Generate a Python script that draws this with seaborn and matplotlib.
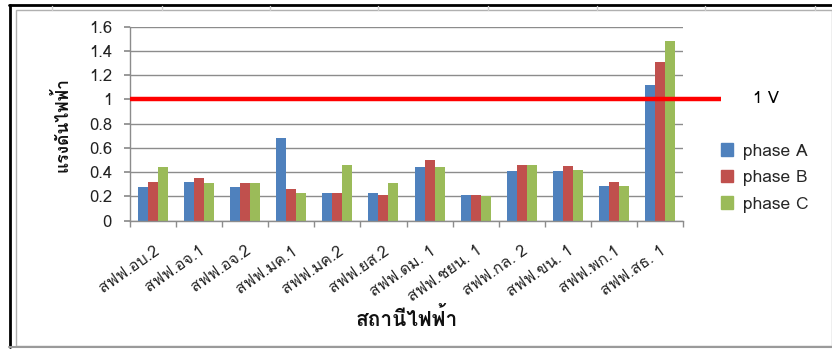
import matplotlib
matplotlib.use("Agg")
import matplotlib.pyplot as plt
import seaborn as sns
import pandas as pd
from matplotlib import font_manager
from matplotlib.lines import Line2D
from matplotlib.patches import Rectangle

# Station names and per-phase readings
stations = ["สฟฟ.อบ.2", "สฟฟ.อจ.1", "สฟฟ.อจ.2", "สฟฟ.มค.1", "สฟฟ.มค.2", "สฟฟ.ยส.2",
            "สฟฟ.ดม. 1", "สฟฟ.ชยน. 1", "สฟฟ.กล. 2", "สฟฟ.ขน. 1", "สฟฟ.พก.1", "สฟฟ.สธ. 1"]
phase_a = [0.28, 0.32, 0.28, 0.68, 0.23, 0.23, 0.44, 0.21, 0.41, 0.41, 0.29, 1.12]
phase_b = [0.32, 0.35, 0.31, 0.26, 0.23, 0.21, 0.50, 0.21, 0.46, 0.45, 0.32, 1.31]
phase_c = [0.44, 0.31, 0.31, 0.23, 0.46, 0.31, 0.44, 0.20, 0.46, 0.42, 0.29, 1.48]
series_names = ["phase A", "phase B", "phase C"]
y_ticks = [0, 0.2, 0.4, 0.6, 0.8, 1.0, 1.2, 1.4, 1.6]
y_tick_labels = ["0", "0.2", "0.4", "0.6", "0.8", "1", "1.2", "1.4", "1.6"]
limit_value = 1.0
limit_label = "1 V"
y_title = "แรงดันไฟฟ้า"
x_title = "สถานีไฟฟ้า"


def find_thai_family():
    """Return the first installed family that covers Thai script."""
    try:
        from fontTools.ttLib import TTFont
    except Exception:
        return None
    for entry in font_manager.fontManager.ttflist:
        try:
            cmap = TTFont(entry.fname, fontNumber=0, lazy=True).getBestCmap()
        except Exception:
            continue
        if cmap and 0x0E2A in cmap and 0x0E31 in cmap:
            return entry.name
    return None


sns.set_theme(style="white")
thai = find_thai_family()
families = ([thai] if thai else []) + ["DejaVu Sans"]
plt.rcParams["font.family"] = families

df = pd.DataFrame({
    "station": stations * 3,
    "value": phase_a + phase_b + phase_c,
    "phase": [series_names[0]] * 12 + [series_names[1]] * 12 + [series_names[2]] * 12,
})
palette = ["#4F81BD", "#C0504D", "#9BBB59"]

W, H = 832, 349
fig = plt.figure(figsize=(W / 100, H / 100), dpi=100)
fig.patch.set_facecolor("white")

x0, x1, y0, y1 = 130, 683, 26.7, 220.7
ax = fig.add_axes([x0 / W, 1 - y1 / H, (x1 - x0) / W, (y1 - y0) / H])

sns.barplot(data=df, x="station", y="value", hue="phase", palette=palette,
            width=0.65, saturation=1, ax=ax, legend=False, edgecolor="none")

ax.set_ylim(0, 1.6)
ax.set_xlim(-0.5, len(stations) - 0.5)
ax.set_yticks(y_ticks)
ax.set_yticklabels(y_tick_labels, fontsize=12, color="#222222")
ax.yaxis.grid(True, color="#8c8c8c", linewidth=1.0)
ax.set_axisbelow(True)
for s in ["top", "right"]:
    ax.spines[s].set_visible(False)
for s in ["left", "bottom"]:
    ax.spines[s].set_color("#8c8c8c")
    ax.spines[s].set_linewidth(1.0)
ax.tick_params(axis="y", which="major", left=True, length=4, color="#8c8c8c", pad=9)

# Category labels sit under bar groups; ticks mark group boundaries
ax.set_xticks(range(len(stations)))
ax.set_xticklabels(stations, rotation=35, ha="right", rotation_mode="anchor",
                   fontsize=11.5, color="#222222")
ax.tick_params(axis="x", which="major", bottom=False, pad=10)
ax.set_xticks([i - 0.5 for i in range(len(stations) + 1)], minor=True)
ax.tick_params(axis="x", which="minor", bottom=True, length=4, color="#8c8c8c")
ax.set_xlabel("")
ax.set_ylabel("")

# Threshold line running past the plot area
x_end = (721 - x0) / (x1 - x0)
ax.plot([0, x_end], [limit_value, limit_value], color="#FF0000", linewidth=3.2,
        transform=ax.get_yaxis_transform(), clip_on=False, zorder=5,
        solid_capstyle="butt")
ax.text((753 - x0) / (x1 - x0), limit_value, limit_label, transform=ax.get_yaxis_transform(),
        ha="left", va="center", fontsize=12, color="black")

# Legend
handles = [Rectangle((0, 0), 1, 1, color=c) for c in palette]
fig.legend(handles, series_names, loc="center left", bbox_to_anchor=(712 / W, 1 - 178 / H),
           frameon=False, fontsize=12.5, handlelength=0.7, handleheight=0.7,
           handletextpad=0.6, labelspacing=0.6, borderpad=0)

# Axis titles
fig.text(61 / W, 1 - 125 / H, y_title, rotation=90, ha="center", va="center",
         fontsize=12.5, fontweight="bold", color="#111111")
fig.text(407 / W, 1 - 318 / H, x_title, ha="center", va="center",
         fontsize=15, fontweight="bold", color="#111111")

# Chart area frame and surrounding sheet border
fig.add_artist(Rectangle((16 / W, 1 - 346 / H), (W - 16) / W, (346 - 10) / H,
                         transform=fig.transFigure, fill=False,
                         edgecolor="#b0b0b0", linewidth=1.0))
fig.add_artist(Line2D([9 / W, 1], [1 - 4.5 / H, 1 - 4.5 / H], transform=fig.transFigure,
                      color="black", linewidth=2.0))
fig.add_artist(Line2D([9.5 / W, 9.5 / W], [1 - 4.5 / H, 1 - 347 / H], transform=fig.transFigure,
                      color="black", linewidth=2.0))
fig.add_artist(Line2D([9 / W, 1], [1 - 346.5 / H, 1 - 346.5 / H], transform=fig.transFigure,
                      color="#9a9a9a", linewidth=1.5))
for gx in [52, 162, 270, 378, 488, 597, 705, 815]:
    fig.add_artist(Line2D([gx / W, gx / W], [1 - 5.5 / H, 1 - 9.5 / H], transform=fig.transFigure,
                          color="#d0d0d0", linewidth=1.0))

fig.savefig("out.png", dpi=100, facecolor="white")
